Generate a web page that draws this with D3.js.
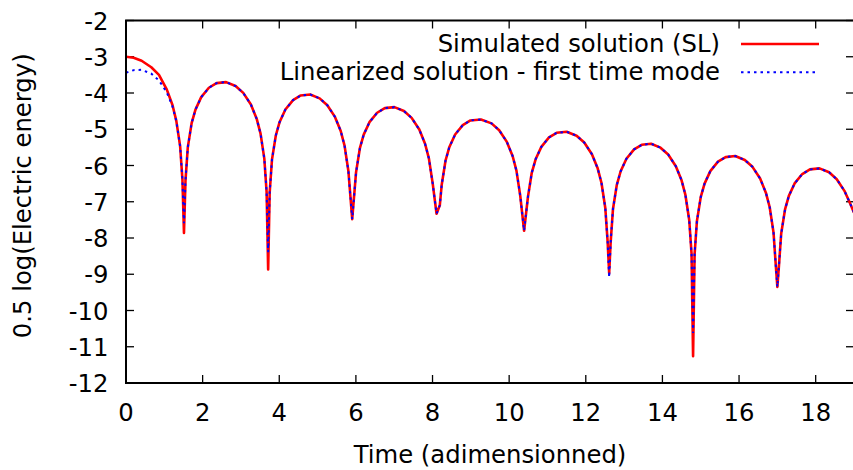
<!DOCTYPE html>
<html>
<head>
<meta charset="utf-8">
<script src="https://cdn.jsdelivr.net/npm/d3@7"></script>
<style>
  html, body { margin: 0; padding: 0; background: #fff; }
  svg { display: block; }
  text { font-family: "DejaVu Sans", sans-serif; fill: #000; }
</style>
</head>
<body>
<svg id="chart" width="853" height="470"></svg>
<script>
// ---- data ----
const time = [
  0, 0.2, 0.407, 0.66, 0.86, 1.063, 1.213, 1.313, 1.413, 1.473, 1.513,
  1.553, 1.613, 1.713, 1.813, 1.963, 2.163, 2.363, 2.612, 2.86, 3.06, 3.26, 3.41, 3.51, 3.61, 3.67, 3.71,
  3.75, 3.81, 3.91, 4.01, 4.16, 4.36, 4.56, 4.807, 5.054, 5.254, 5.454, 5.604, 5.704, 5.804, 5.904,
  6.004, 6.104, 6.204, 6.354, 6.554, 6.754, 7.005, 7.255, 7.455, 7.655, 7.805, 7.905, 8.005, 8.105, 8.19,
  8.24, 8.34, 8.44, 8.59, 8.79, 8.99, 9.265, 9.54, 9.74, 9.94, 10.09, 10.19, 10.29, 10.39,
  10.49, 10.59, 10.69, 10.84, 11.04, 11.24, 11.5, 11.76, 11.96, 12.16, 12.31, 12.41, 12.51, 12.57, 12.61,
  12.65, 12.71, 12.81, 12.91, 13.06, 13.26, 13.46, 13.705, 13.95, 14.15, 14.35, 14.5, 14.6, 14.7, 14.76, 14.8,
  14.84, 14.9, 15.0, 15.1, 15.25, 15.45, 15.65, 15.9, 16.15, 16.35, 16.55, 16.7, 16.8, 16.9, 16.96, 17.0,
  17.04, 17.1, 17.2, 17.3, 17.45, 17.65, 17.85, 18.1, 18.35, 18.55, 18.75, 18.9, 19.0
];
const simulated = [
  -3.00, -3.03, -3.11, -3.29, -3.50, -3.90, -4.33, -4.77, -5.47, -6.39, -7.86,
  -6.403, -5.499, -4.832, -4.459, -4.115, -3.855, -3.728, -3.70, -3.808, -3.997, -4.319, -4.709, -5.112, -5.811, -6.733, -8.87,
  -6.743, -5.839, -5.172, -4.799, -4.455, -4.195, -4.068, -4.04, -4.148, -4.337, -4.659, -5.049, -5.452, -6.151, -7.48,
  -6.189, -5.522, -5.149, -4.805, -4.545, -4.418, -4.39, -4.498, -4.687, -5.009, -5.399, -5.802, -6.501, -7.33, -7.10,
  -6.529, -5.862, -5.489, -5.145, -4.885, -4.758, -4.73, -4.838, -5.027, -5.349, -5.739, -6.142, -6.841, -7.80,
  -6.869, -6.202, -5.829, -5.485, -5.225, -5.098, -5.07, -5.178, -5.367, -5.689, -6.079, -6.482, -7.181, -8.103, -8.97,
  -8.103, -7.199, -6.532, -6.159, -5.815, -5.555, -5.428, -5.40, -5.508, -5.697, -6.019, -6.409, -6.812, -7.511, -8.433, -11.26,
  -8.443, -7.539, -6.872, -6.499, -6.155, -5.895, -5.768, -5.74, -5.848, -6.037, -6.359, -6.749, -7.152, -7.851, -8.773, -9.35,
  -8.783, -7.879, -7.212, -6.839, -6.495, -6.235, -6.108, -6.08, -6.188, -6.377, -6.699, -7.05, -7.30
];
const linearized = [
  -3.44, -3.37, -3.36, -3.467, -3.653, -3.979, -4.369, -4.772, -5.471, -6.393, -7.59,
  -6.403, -5.499, -4.832, -4.459, -4.115, -3.855, -3.728, -3.70, -3.808, -3.997, -4.319, -4.709, -5.112, -5.811, -6.733, -8.39,
  -6.743, -5.839, -5.172, -4.799, -4.455, -4.195, -4.068, -4.04, -4.148, -4.337, -4.659, -5.049, -5.452, -6.151, -7.48,
  -6.189, -5.522, -5.149, -4.805, -4.545, -4.418, -4.39, -4.498, -4.687, -5.009, -5.399, -5.802, -6.501, -7.33, -7.10,
  -6.529, -5.862, -5.489, -5.145, -4.885, -4.758, -4.73, -4.838, -5.027, -5.349, -5.739, -6.142, -6.841, -7.80,
  -6.869, -6.202, -5.829, -5.485, -5.225, -5.098, -5.07, -5.178, -5.367, -5.689, -6.079, -6.482, -7.181, -8.103, -9.09,
  -8.103, -7.199, -6.532, -6.159, -5.815, -5.555, -5.428, -5.40, -5.508, -5.697, -6.019, -6.409, -6.812, -7.511, -8.433, -10.62,
  -8.443, -7.539, -6.872, -6.499, -6.155, -5.895, -5.768, -5.74, -5.848, -6.037, -6.359, -6.749, -7.152, -7.851, -8.773, -9.35,
  -8.783, -7.879, -7.212, -6.839, -6.495, -6.235, -6.108, -6.08, -6.188, -6.377, -6.699, -7.05, -7.30
];
const seriesNames = ["Simulated solution (SL)", "Linearized solution - first time mode"];
const xTicks = [0, 2, 4, 6, 8, 10, 12, 14, 16, 18];
const yTicks = [-12, -11, -10, -9, -8, -7, -6, -5, -4, -3, -2];
const xTitle = "Time (adimensionned)";
const yTitle = "0.5 log(Electric energy)";

// ---- layout ----
const L = 126, R = 854, T = 20.5, B = 383;
const svg = d3.select("#chart");
const x = d3.scaleLinear().domain([0, 19]).range([L, R]);
const y = d3.scaleLinear().domain([-12, -2]).range([B, T]);
const FS = 24.3;
const tickLen = 8;

svg.append("defs").append("clipPath").attr("id", "clip")
  .append("rect").attr("x", L).attr("y", T).attr("width", R - L).attr("height", B - T);

// ticks (mirrored on all four sides, pointing inward)
const tickG = svg.append("g").attr("stroke", "#000").attr("stroke-width", 1.3);
xTicks.forEach(v => {
  tickG.append("line").attr("x1", x(v)).attr("x2", x(v)).attr("y1", B).attr("y2", B - tickLen);
  tickG.append("line").attr("x1", x(v)).attr("x2", x(v)).attr("y1", T).attr("y2", T + tickLen);
});
yTicks.forEach(v => {
  tickG.append("line").attr("x1", L).attr("x2", L + tickLen).attr("y1", y(v)).attr("y2", y(v));
  tickG.append("line").attr("x1", R).attr("x2", R - tickLen).attr("y1", y(v)).attr("y2", y(v));
});

// tick labels
svg.append("g").selectAll("text").data(xTicks).join("text")
  .attr("x", d => x(d)).attr("y", 420.5)
  .attr("text-anchor", "middle").attr("font-size", FS)
  .text(d => d);
svg.append("g").selectAll("text").data(yTicks).join("text")
  .attr("x", 108.5).attr("y", d => y(d) + 9)
  .attr("text-anchor", "end").attr("font-size", FS)
  .text(d => String(d));

// axis titles
svg.append("text").attr("x", (L + R) / 2).attr("y", 463)
  .attr("text-anchor", "middle").attr("font-size", FS).text(xTitle);
svg.append("text").attr("transform", `translate(31,${(T + B) / 2 - 6}) rotate(-90)`)
  .attr("text-anchor", "middle").attr("font-size", FS).text(yTitle);

// curves
const redData = time.map((t, i) => [t, simulated[i]]);
const blueData = time.map((t, i) => [t, linearized[i]]);
const line = d3.line().x(d => x(d[0])).y(d => y(d[1]));
const plot = svg.append("g").attr("clip-path", "url(#clip)");
plot.append("path").datum(redData).attr("d", line)
  .attr("fill", "none").attr("stroke", "#ff0000").attr("stroke-width", 2.6)
  .attr("stroke-linejoin", "round");
plot.append("path").datum(blueData).attr("d", line)
  .attr("fill", "none").attr("stroke", "#0000ff").attr("stroke-width", 2)
  .attr("stroke-dasharray", "2.5,4");

// legend
const legY = [44, 72.3];
const legColors = ["#ff0000", "#0000ff"];
seriesNames.forEach((name, i) => {
  svg.append("text").attr("x", 720).attr("y", legY[i] + 7.5)
    .attr("text-anchor", "end").attr("font-size", FS).text(name);
  const ln = svg.append("line").attr("x1", 741).attr("x2", 819)
    .attr("y1", legY[i]).attr("y2", legY[i])
    .attr("stroke", legColors[i]).attr("stroke-width", i === 0 ? 2.6 : 2);
  if (i === 1) ln.attr("stroke-dasharray", "2.5,4");
});

// frame
svg.append("rect").attr("x", L).attr("y", T).attr("width", R - L).attr("height", B - T)
  .attr("fill", "none").attr("stroke", "#000").attr("stroke-width", 2);
</script>
</body>
</html>
